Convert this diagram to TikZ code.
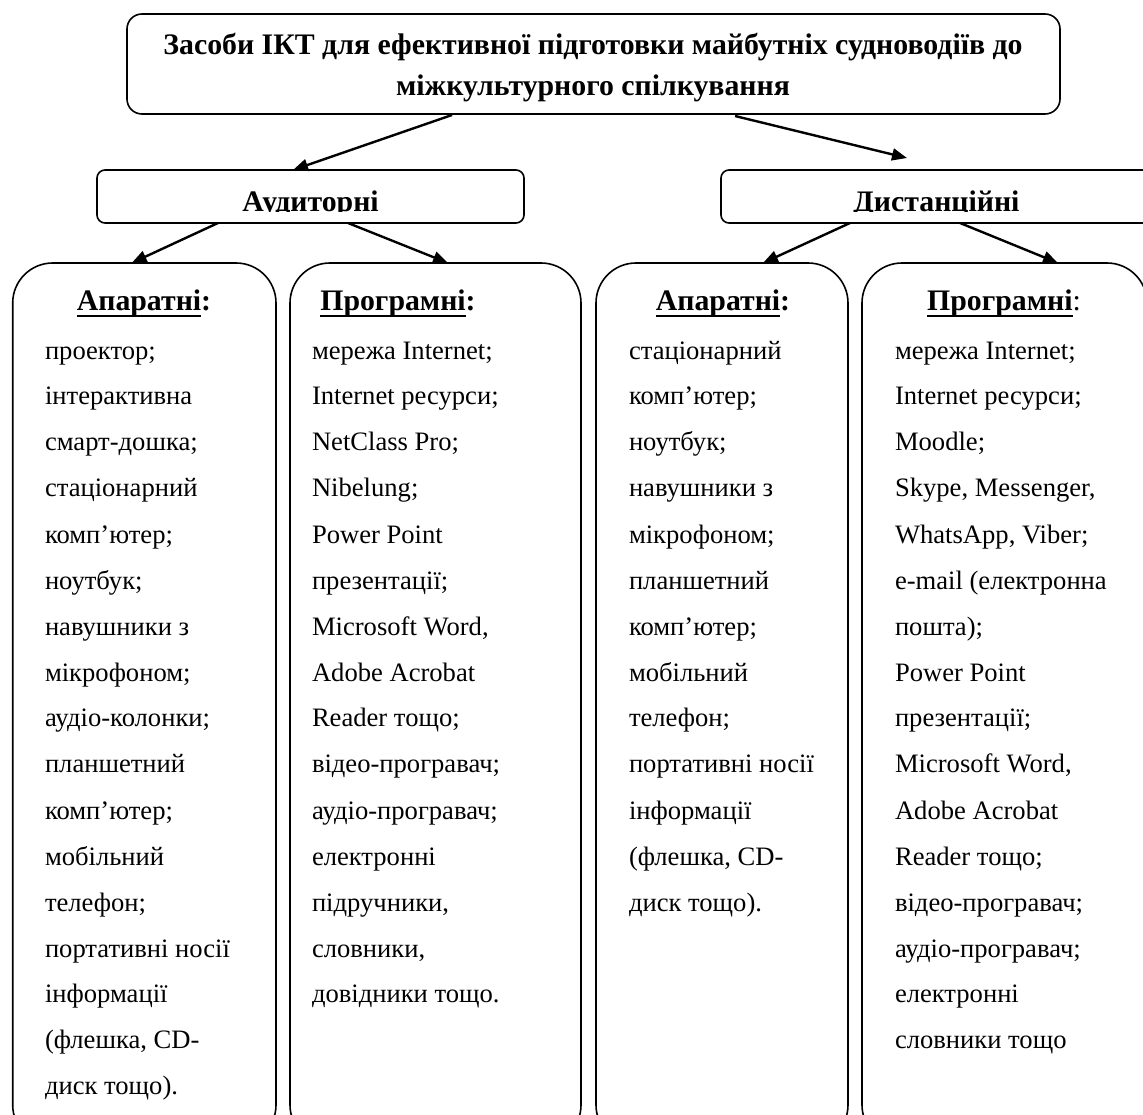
\documentclass[tikz,border=0pt]{standalone}
\usepackage{fontspec}
\setmainfont{Liberation Serif}
\usetikzlibrary{arrows.meta,calc}
\newsavebox\myulbox
\newcommand\myul[1]{\sbox\myulbox{#1}\rlap{\vrule height -4pt depth 6pt width \wd\myulbox}\usebox\myulbox}
\newcommand\itemlines[1]{\vtop{\baselineskip=46pt\lineskiplimit=-100pt\halign{##\hfil\cr #1\crcr}}}
\begin{document}
\begin{tikzpicture}[x=1pt,y=-1pt,
  font=\fontsize{26.6pt}{46pt}\selectfont,
  box/.style={draw, line width=1.6pt, rounded corners=#1, inner sep=0pt, outer sep=0pt},
  txt/.style={inner sep=0pt, outer sep=0pt},
  bigb/.style={font=\fontsize{29.8pt}{46pt}\selectfont\bfseries},
  arr/.style={line width=2.4pt, -{Triangle[length=15pt,width=12pt]}}]
\useasboundingbox (0,0) rectangle (1143,1115);
\clip (0,0) rectangle (1143,1115);
\fill[white] (0,0) rectangle (1143,1115);

% boxes
\node[box=15, minimum width=933pt, minimum height=100pt] (title) at (593.5,64) {};
\node[box=8, minimum width=427pt, minimum height=53pt] (audbox) at (310.5,196.5) {};
\node[box=8, minimum width=431pt, minimum height=53pt] (disbox) at (936.5,196.5) {};
\node[box=40, minimum width=263.3pt, minimum height=882pt] (c1) at (144.35,704) {};
\node[box=40, minimum width=291pt, minimum height=882pt] (c2) at (435.5,704) {};
\node[box=40, minimum width=252pt, minimum height=882pt] (c3) at (722,704) {};
\node[box=40, minimum width=285pt, minimum height=882pt] (c4) at (1004.5,704) {};

% title text
\node[txt, bigb, anchor=base] (t1) at (593,55) {Засоби ІКТ для ефективної підготовки майбутніх судноводіїв до};
\node[txt, bigb, anchor=base] (t2) at (593,96) {міжкультурного спілкування};

% level 2 labels (clipped at the box's text area)
\begin{scope}
\clip (97,170) rectangle (524,211.5);
\node[txt, bigb, anchor=base] (aud) at (310.5,212) {Аудиторні};
\end{scope}
\begin{scope}
\clip (721,170) rectangle (1152,211.5);
\node[txt, bigb, anchor=base] (dis) at (936.5,212) {Дистанційні};
\end{scope}

% headings
\node[txt, bigb, anchor=base] (h1) at (144,311) {\myul{Апаратні}:};
\node[txt, bigb, anchor=base] (h2) at (398,311) {\myul{Програмні}:};
\node[txt, bigb, anchor=base] (h3) at (723,311) {\myul{Апаратні}:};
\node[txt, anchor=base, font=\fontsize{29.8pt}{46pt}\selectfont] (h4) at (1004,311) {\textbf{\myul{Програмні}}:};

% column texts
\node[txt, anchor=base west] (l1) at (45,359) {\itemlines{проектор;\cr
інтерактивна\cr
смарт-дошка;\cr
стаціонарний\cr
комп’ютер;\cr
ноутбук;\cr
навушники з\cr
мікрофоном;\cr
аудіо-колонки;\cr
планшетний\cr
комп’ютер;\cr
мобільний\cr
телефон;\cr
портативні носії\cr
інформації\cr
(флешка, CD-\cr
диск тощо).}};

\node[txt, anchor=base west] (l2) at (312,359) {\itemlines{мережа Internet;\cr
Internet ресурси;\cr
NetClass Pro;\cr
Nibelung;\cr
Power Point\cr
презентації;\cr
Microsoft Word,\cr
Adobe Acrobat\cr
Reader тощо;\cr
відео-програвач;\cr
аудіо-програвач;\cr
електронні\cr
підручники,\cr
словники,\cr
довідники тощо.}};

\node[txt, anchor=base west] (l3) at (629,359) {\itemlines{стаціонарний\cr
комп’ютер;\cr
ноутбук;\cr
навушники з\cr
мікрофоном;\cr
планшетний\cr
комп’ютер;\cr
мобільний\cr
телефон;\cr
портативні носії\cr
інформації\cr
(флешка, CD-\cr
диск тощо).}};

\node[txt, anchor=base west] (l4) at (895,359) {\itemlines{мережа Internet;\cr
Internet ресурси;\cr
Moodle;\cr
Skype, Messenger,\cr
WhatsApp, Viber;\cr
e-mail (електронна\cr
пошта);\cr
Power Point\cr
презентації;\cr
Microsoft Word,\cr
Adobe Acrobat\cr
Reader тощо;\cr
відео-програвач;\cr
аудіо-програвач;\cr
електронні\cr
словники тощо}};

% connectors
\coordinate (a2e) at (907,158);
\draw[arr] ($(title.south west)+(325,1)$) -- ($(audbox.north west)+(196,0)$);
\draw[arr] ($(title.south west)+(608,2)$) -- (a2e);
\draw[arr] ($(audbox.south west)+(121,0)$) -- ($(c1.north west)+(119,0)$);
\draw[arr] ($(audbox.south west)+(251,0)$) -- ($(c2.north west)+(158,0)$);
\draw[arr] ($(disbox.south west)+(129,0)$) -- ($(c3.north west)+(167,0)$);
\draw[arr] ($(disbox.south west)+(239,0)$) -- ($(c4.north west)+(196,0)$);
\end{tikzpicture}
\end{document}
